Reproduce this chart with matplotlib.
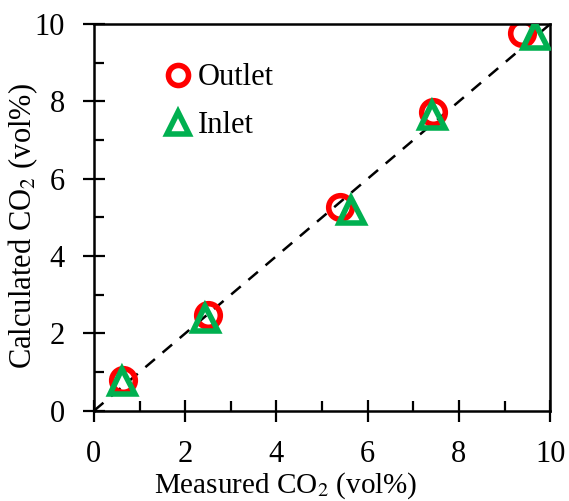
import numpy as np
import matplotlib.pyplot as plt
from matplotlib.ticker import MultipleLocator

plt.rcParams['font.family'] = ['Liberation Serif', 'DejaVu Serif']
plt.rcParams['mathtext.fontset'] = 'stix'

# measured vs calculated CO2 (vol%)
outlet_meas = [0.64, 2.50, 5.39, 7.43, 9.39]
outlet_calc = [0.80, 2.47, 5.28, 7.72, 9.78]
inlet_meas = [0.62, 2.44, 5.64, 7.40, 9.66]
inlet_calc = [0.76, 2.39, 5.20, 7.64, 9.72]
line_x = [0, 10]

fig = plt.figure(figsize=(5.69, 5.01), dpi=100)
ax = fig.add_axes([0.165, 0.180, 0.802, 0.772])

ax.plot(line_x, line_x, ls=(0, (5, 4)), color='black', lw=1.8, zorder=1)
ax.plot(outlet_meas, outlet_calc, 'o', ms=17, mfc='none', mec='#ff0000',
        mew=4, ls='none', label='Outlet', zorder=2)
ax.plot(inlet_meas, inlet_calc, '^', ms=18, mfc='none', mec='#00b050',
        mew=4, ls='none', label='Inlet', zorder=3)

ax.set_xlim(0, 10)
ax.set_ylim(0, 10)
ax.xaxis.set_major_locator(MultipleLocator(2))
ax.yaxis.set_major_locator(MultipleLocator(2))
ax.xaxis.set_minor_locator(MultipleLocator(1))
ax.yaxis.set_minor_locator(MultipleLocator(1))
ax.tick_params(which='major', direction='inout', length=16, width=1.6,
               labelsize=22, pad=13)
ax.tick_params(which='minor', direction='in', length=7, width=1.6)
for s in ax.spines.values():
    s.set_linewidth(1.8)

ax.set_xlabel('Measured CO$_2$ (vol%)', fontsize=21)
ax.set_ylabel('Calculated CO$_2$ (vol%)', fontsize=22)
ax.xaxis.set_label_coords(0.421, -0.153)
ax.yaxis.set_label_coords(-0.118, 0.478)

ax.legend(loc='upper left', bbox_to_anchor=(0.12, 0.93), frameon=False,
          fontsize=22, handletextpad=0.1, handlelength=1.1,
          labelspacing=0.62, borderaxespad=0, markerscale=0.85)

fig.savefig('out.png', dpi=100)
